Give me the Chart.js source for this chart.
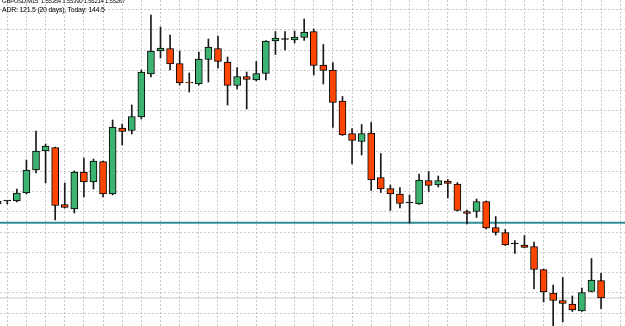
<!DOCTYPE html>
<html>
<head>
<meta charset="utf-8">
<script src="https://cdn.jsdelivr.net/npm/chart.js@4.4.1/dist/chart.umd.min.js"></script>
<style>
  body { margin: 0; background: #fff; }
  #wrap { position: relative; width: 625px; height: 326px; overflow: hidden; }
  #info { position: absolute; left: 2px; top: -2px; font-family: "Liberation Sans", Arial, sans-serif; color: #000; }
  #info div { white-space: pre; line-height: 7.5px; }
  #line1 { font-size: 6px; letter-spacing: -0.25px; }
  #line2 { font-size: 7px; letter-spacing: -0.25px; }
</style>
</head>
<body>
<div id="wrap">
  <canvas id="priceChart" width="625" height="326"></canvas>
  <div id="info"><div id="line1">GBPUSD,M15  1.55354 1.55390 1.55214 1.55267</div><div id="line2">ADR: 121.5 (20 days), Today: 144.5</div></div>
</div>
<script>
// M15 bars, oldest first (first one is cut off at the left edge)
const opens = [1.55737, 1.55752, 1.55752, 1.55792, 1.55907, 1.56002, 1.560195, 1.557345, 1.55712, 1.55897,
  1.55847, 1.559495, 1.55787, 1.56117, 1.561045, 1.56172, 1.56387, 1.56502, 1.565145, 1.564395,
  1.563445, 1.56337, 1.564595, 1.565145, 1.56447, 1.563295, 1.563745, 1.56357, 1.563895, 1.56552,
  1.565595, 1.56557, 1.565695, 1.565995, 1.56432, 1.56407, 1.56252, 1.560895, 1.560495, 1.56092,
  1.558695, 1.558145, 1.55787, 1.55742, 1.55737, 1.558545, 1.55832, 1.55852, 1.55837, 1.556995,
  1.556995, 1.557495, 1.556195, 1.555945, 1.55537, 1.55532, 1.555245, 1.554095, 1.55292, 1.552545,
  1.55237, 1.55202, 1.552995, 1.55354];
const highs = [1.55757, 1.55752, 1.55812, 1.55957, 1.56102, 1.56037, 1.56022, 1.55842, 1.55902, 1.55967,
  1.55962, 1.55952, 1.56157, 1.56137, 1.56232, 1.56407, 1.56682, 1.56622, 1.56582, 1.56502,
  1.56392, 1.56497, 1.56562, 1.56577, 1.56472, 1.564195, 1.56397, 1.564495, 1.565545, 1.565995,
  1.565995, 1.56602, 1.56662, 1.56612, 1.565345, 1.564445, 1.562745, 1.561145, 1.561345, 1.561445,
  1.559895, 1.55832, 1.558195, 1.55782, 1.55887, 1.558995, 1.55877, 1.558595, 1.558445, 1.55707,
  1.55762, 1.55752, 1.556745, 1.556095, 1.555545, 1.555795, 1.55547, 1.55412, 1.55332, 1.553695,
  1.55277, 1.55317, 1.554645, 1.55390];
const lows = [1.55732, 1.55737, 1.55747, 1.55787, 1.55892, 1.55842, 1.55657, 1.55717, 1.55692, 1.55772,
  1.55812, 1.55772, 1.55782, 1.56032, 1.56087, 1.56162, 1.56372, 1.56467, 1.56407, 1.56332,
  1.56297, 1.56332, 1.56347, 1.56417, 1.56232, 1.56312, 1.56212, 1.56352, 1.56357, 1.564845,
  1.56507, 1.56542, 1.565545, 1.56382, 1.56337, 1.561195, 1.560795, 1.55937, 1.55982, 1.558045,
  1.557945, 1.557045, 1.55717, 1.55642, 1.557345, 1.557995, 1.55822, 1.55767, 1.55702, 1.55637,
  1.556695, 1.55612, 1.55582, 1.555295, 1.554895, 1.555195, 1.55312, 1.55247, 1.55107, 1.55147,
  1.551995, 1.551995, 1.55297, 1.55214];
const closes = [1.55752, 1.55752, 1.55792, 1.55907, 1.56002, 1.56027, 1.557295, 1.557195, 1.55897, 1.55847,
  1.55952, 1.55787, 1.56122, 1.560995, 1.561745, 1.56397, 1.56502, 1.56517, 1.56437, 1.56342,
  1.56342, 1.56462, 1.56522, 1.564495, 1.563295, 1.563745, 1.563595, 1.563895, 1.56552, 1.56567,
  1.565595, 1.56572, 1.56597, 1.564295, 1.564045, 1.562445, 1.56082, 1.560545, 1.560895, 1.55857,
  1.55812, 1.55787, 1.557395, 1.55742, 1.55857, 1.558295, 1.558545, 1.558395, 1.557045, 1.556895,
  1.557495, 1.55617, 1.555945, 1.55532, 1.55537, 1.555195, 1.554095, 1.55297, 1.552545, 1.552395,
  1.55207, 1.552945, 1.55357, 1.55267];

// horizontal levels
const levelLine = 1.556435;   // teal trend level
const bidPrice = 1.55267;     // last close / bid line

// grid positions (price scale and every 2nd bar)
const yGrid = [1.55191, 1.55292, 1.55393, 1.55495, 1.55596, 1.55697, 1.55798, 1.55899,
  1.56000, 1.56101, 1.56203, 1.56304, 1.56405, 1.56506, 1.56607, 1.56708];
const xGrid = [1, 3, 5, 7, 9, 11, 13, 15, 17, 19, 21, 23, 25, 27, 29, 31,
  33, 35, 37, 39, 41, 43, 45, 47, 49, 51, 53, 55, 57, 59, 61, 63];

const barIndex = opens.map((_, i) => i - 1);

const bullColor = '#3cb371';
const bearColor = '#ff4500';

const bodyColors = opens.map((o, i) => closes[i] > o ? bullColor : (closes[i] < o ? bearColor : '#000000'));

const ctx = document.getElementById('priceChart').getContext('2d');

const chart = new Chart(ctx, {
    type: 'bar',
    data: {
        datasets: [
            {
                label: 'body',
                data: barIndex.map((x, i) => ({ x: x, y: [opens[i], closes[i]] })),
                backgroundColor: bodyColors,
                borderColor: '#000000',
                borderWidth: 1,
                borderSkipped: false,
                barThickness: 7,
                minBarLength: 1,
                grouped: false,
                order: 1
            },
            {
                label: 'wick',
                data: barIndex.map((x, i) => ({ x: x, y: [lows[i], highs[i]] })),
                backgroundColor: '#1a1a1a',
                borderWidth: 0,
                barThickness: 1,
                grouped: false,
                order: 2
            },
            {
                type: 'line',
                label: 'level',
                data: [{ x: -2, y: levelLine }, { x: 66, y: levelLine }],
                borderColor: '#2e8e96',
                borderWidth: 2,
                pointRadius: 0,
                order: 3
            },
            {
                type: 'line',
                label: 'bid',
                data: [{ x: -2, y: bidPrice }, { x: 66, y: bidPrice }],
                borderColor: '#c8c8c8',
                borderWidth: 1,
                pointRadius: 0,
                order: 4
            }
        ]
    },
    options: {
        responsive: false,
        animation: false,
        devicePixelRatio: 1,
        layout: { padding: 0 },
        plugins: {
            legend: { display: false },
            tooltip: { enabled: false }
        },
        scales: {
            x: {
                type: 'linear',
                min: -0.76,
                max: 64.5,
                offset: false,
                afterBuildTicks: (axis) => { axis.ticks = xGrid.map(v => ({ value: v })); },
                ticks: { display: false },
                grid: { color: '#c8c8c8', drawTicks: false, lineWidth: 1 },
                border: { display: false, dash: [2, 2] }
            },
            y: {
                min: 1.55127,
                max: 1.56757,
                afterBuildTicks: (axis) => { axis.ticks = yGrid.map(v => ({ value: v })); },
                ticks: { display: false },
                grid: { color: '#c8c8c8', drawTicks: false, lineWidth: 1 },
                border: { display: false, dash: [2, 2] }
            }
        }
    }
});
</script>
</body>
</html>
